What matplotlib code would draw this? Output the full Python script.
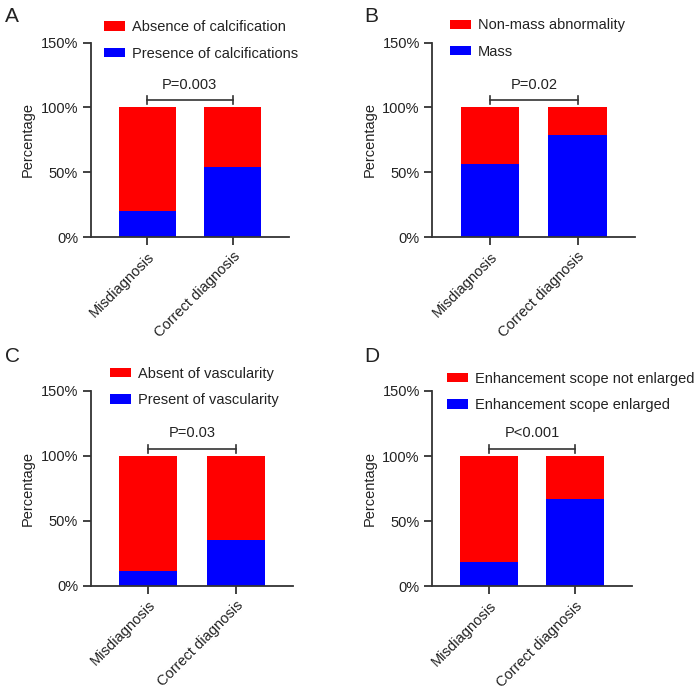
import matplotlib
matplotlib.use("Agg")
import matplotlib.pyplot as plt
from matplotlib.patches import Patch

plt.rcParams['font.family'] = ['Liberation Sans', 'DejaVu Sans']

categories = ["Misdiagnosis", "Correct diagnosis"]
yticks = [0, 50, 100, 150]
ytick_labels = ["0%", "50%", "100%", "150%"]

panel_letters = ["A", "B", "C", "D"]
blue_labels = ["Presence of calcifications", "Mass", "Present of vascularity", "Enhancement scope enlarged"]
red_labels = ["Absence of calcification", "Non-mass abnormality", "Absent of vascularity", "Enhancement scope not enlarged"]
blue_A = [20, 54]
blue_B = [56, 79]
blue_C = [11, 35]
blue_D = [19, 67]
blue_values = [blue_A, blue_B, blue_C, blue_D]
total = [100, 100]
p_texts = ["P=0.003", "P=0.02", "P=0.03", "P<0.001"]

RED = "#FF0000"
BLUE = "#0000FF"
TXT = "#222222"

fig = plt.figure(figsize=(6.97, 6.93), dpi=100)
W, H = 697, 693

# axes rects in pixels: left, right, top(150%), bottom(0%)
rects = [
    (90.7, 289.0, 42.7, 237.0),
    (432.3, 635.3, 42.7, 237.0),
    (90.7, 293.3, 391.0, 585.7),
    (432.3, 632.0, 391.0, 586.3),
]
letter_pos = [(5, 17), (364, 17), (5, 357), (364, 357)]
legend_pos = [(104, 26.7), (449.7, 25), (110, 373.3), (447, 378.3)]

for i in range(4):
    l, r, t, b = rects[i]
    ax = fig.add_axes([l / W, 1 - b / H, (r - l) / W, (b - t) / H])
    x = range(len(categories))
    blue = blue_values[i]
    red = [tt - bb for tt, bb in zip(total, blue)]
    ax.bar(x, blue, width=0.667, color=BLUE, edgecolor='none')
    ax.bar(x, red, bottom=blue, width=0.667, color=RED, edgecolor='none')
    ax.set_xlim(-0.66, 1.66)
    ax.set_ylim(0, 150)
    ax.set_yticks(yticks)
    ax.set_yticklabels(ytick_labels, fontsize=10.5, color=TXT)
    ax.set_xticks(list(x))
    ax.set_xticklabels(categories, rotation=45, ha='right', rotation_mode='anchor',
                       fontsize=10.5, color=TXT)
    ax.set_ylabel("Percentage", fontsize=10.5, color=TXT, labelpad=4)
    for s in ['top', 'right']:
        ax.spines[s].set_visible(False)
    for s in ['left', 'bottom']:
        ax.spines[s].set_linewidth(1.3)
        ax.spines[s].set_color('#333333')
    ax.tick_params(axis='both', direction='out', length=6, width=1.3, color='#333333', pad=3)

    # significance bracket
    ax.plot([0, 1], [105.5, 105.5], color='#333333', lw=1.2)
    for xx in [0, 1]:
        ax.plot([xx, xx], [102.5, 108.5], color='#333333', lw=1.2)
    ax.text(0.5, 117.5, p_texts[i], ha='center', va='center', fontsize=10.5, color=TXT)

    handles = [Patch(facecolor=RED, edgecolor='none', label=red_labels[i]),
               Patch(facecolor=BLUE, edgecolor='none', label=blue_labels[i])]
    lx, lyc = legend_pos[i]
    ly = lyc - 6.5
    leg = fig.legend(handles=handles, loc='upper left',
                     bbox_to_anchor=(lx / W, 1 - ly / H), frameon=False,
                     fontsize=10.5, handlelength=1.45, handleheight=0.6,
                     handletextpad=0.5, labelspacing=0.85, borderaxespad=0, borderpad=0)
    for tx in leg.get_texts():
        tx.set_color(TXT)

    lx0, ly0 = letter_pos[i]
    fig.text(lx0 / W, 1 - ly0 / H, panel_letters[i], fontsize=15, color=TXT,
             ha='left', va='center')

fig.savefig("out.png", dpi=100)
